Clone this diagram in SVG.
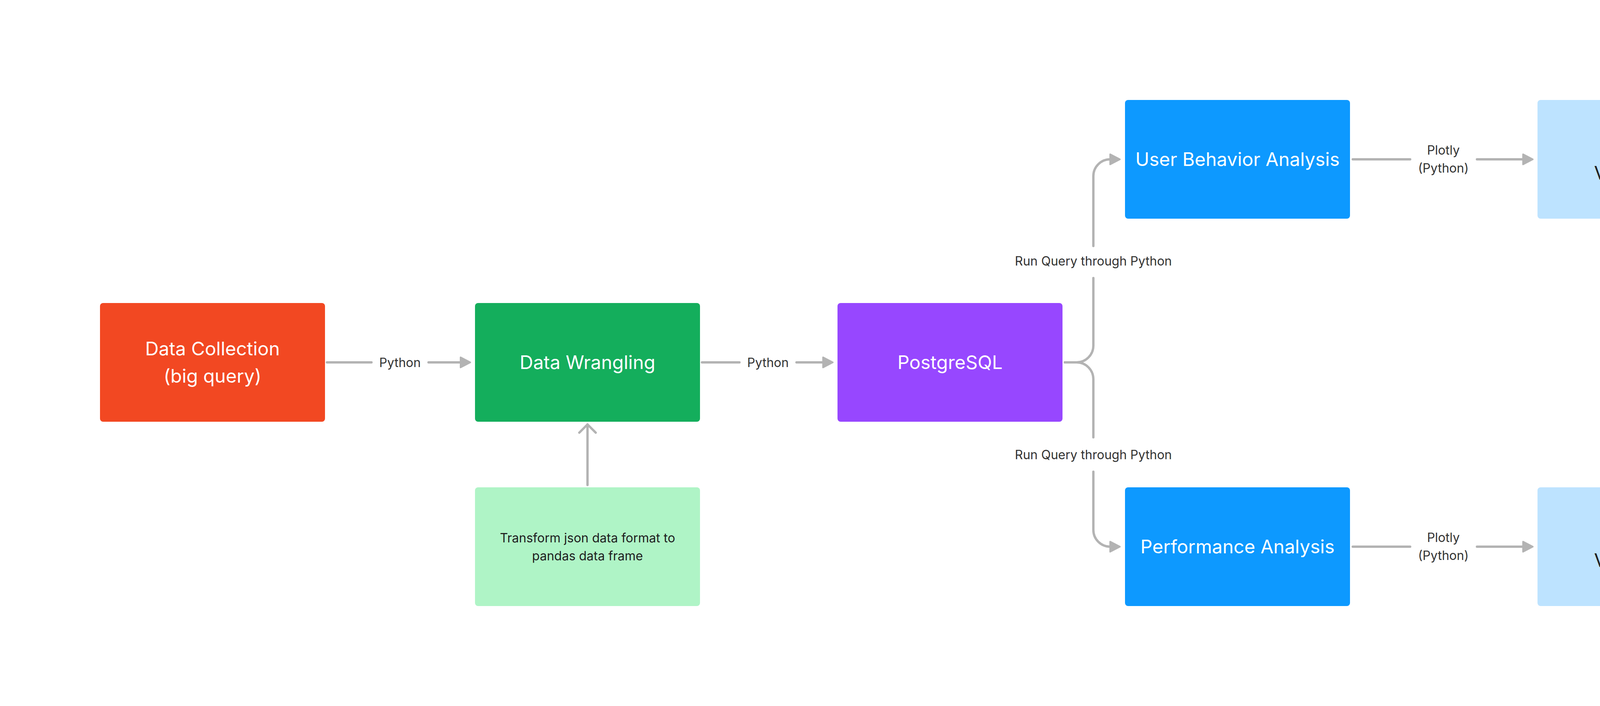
<svg xmlns="http://www.w3.org/2000/svg" width="5664" height="1808" viewBox="0 0 5664 1808">
<style>
.node rect{rx:8px;ry:8px}
.t48{font-family:Inter,"Liberation Sans",sans-serif;font-size:48px;text-anchor:middle}
.t32{font-family:Inter,"Liberation Sans",sans-serif;font-size:32px;text-anchor:middle}
.w{fill:#FFFFFF}
.d{fill:#1E1E1E}
.lbl{fill:#333333}
.c{fill:none;stroke:#B3B3B3;stroke-width:6;stroke-linecap:round;stroke-linejoin:round}
</style>
<defs>
<marker id="arrow" markerUnits="userSpaceOnUse" orient="auto" overflow="visible" refX="0" refY="0" markerWidth="1" markerHeight="1">
<path d="M0,-13 L25,0 L0,13 Z" fill="#B3B3B3" stroke="#B3B3B3" stroke-width="4" stroke-linejoin="round"/>
</marker>
<marker id="open" markerUnits="userSpaceOnUse" orient="auto" overflow="visible" refX="0" refY="0" markerWidth="1" markerHeight="1">
<path d="M-21,-21 L0,0 L-21,21" fill="none" stroke="#B3B3B3" stroke-width="6" stroke-linecap="round" stroke-linejoin="round"/>
</marker>
</defs>
<rect x="0" y="0" width="5664" height="1808" fill="#FFFFFF"/>
<g id="connectors">
<path class="c" d="M837,928 H951"/>
<path class="c" d="M1097,928 H1179" marker-end="url(#arrow)"/>
<path class="c" d="M1797,928 H1893"/>
<path class="c" d="M2039,928 H2107" marker-end="url(#arrow)"/>
<path class="c" d="M2726,928 H2756 A43,43 0 0 0 2799,885 V712"/>
<path class="c" d="M2799,630 V451 A43,43 0 0 1 2842,408" marker-end="url(#arrow)"/>
<path class="c" d="M2726,928 H2756 A43,43 0 0 1 2799,971 V1120"/>
<path class="c" d="M2799,1208 V1357 A43,43 0 0 0 2842,1400" marker-end="url(#arrow)"/>
<path class="c" d="M3463,408 H3610"/>
<path class="c" d="M3781,408 H3899" marker-end="url(#arrow)"/>
<path class="c" d="M3463,1400 H3610"/>
<path class="c" d="M3781,1400 H3899" marker-end="url(#arrow)"/>
<path class="c" d="M4518,408 H4628 A43,43 0 0 1 4671,451 V885 A43,43 0 0 0 4714,928 H4794" marker-end="url(#arrow)"/>
<path class="c" d="M4518,1400 H4628 A43,43 0 0 0 4671,1357 V971 A43,43 0 0 1 4714,928 H4794" marker-end="url(#arrow)"/>
<path class="c" d="M1504,1242 V1087" marker-end="url(#open)"/>
<text class="t32 lbl" x="1024" y="940">Python</text>
<text class="t32 lbl" x="1966" y="940">Python</text>
<text class="t32 lbl" x="2799" y="680">Run Query through Python</text>
<text class="t32 lbl" x="2799" y="1176">Run Query through Python</text>
<text class="t32 lbl" x="3695" y="396">Plotly</text>
<text class="t32 lbl" x="3695" y="442">(Python)</text>
<text class="t32 lbl" x="3695" y="1388">Plotly</text>
<text class="t32 lbl" x="3695" y="1434">(Python)</text>
</g>
<g id="data-collection" class="node">
<rect x="256" y="776" width="576" height="304" fill="#F24822"/>
<text class="t48 w" x="544" y="910">Data Collection</text>
<text class="t48 w" x="544" y="980">(big query)</text>
</g>
<g id="data-wrangling" class="node">
<rect x="1216" y="776" width="576" height="304" fill="#14AE5C"/>
<text class="t48 w" x="1504" y="945">Data Wrangling</text>
</g>
<g id="transform" class="node">
<rect x="1216" y="1248" width="576" height="304" fill="#AFF4C6"/>
<text class="t32 d" x="1504" y="1389">Transform json data format to</text>
<text class="t32 d" x="1504" y="1435">pandas data frame</text>
</g>
<g id="postgresql" class="node">
<rect x="2144" y="776" width="576" height="304" fill="#9747FF"/>
<text class="t48 w" x="2432" y="945">PostgreSQL</text>
</g>
<g id="user-behavior" class="node">
<rect x="2880" y="256" width="576" height="304" fill="#0D99FF"/>
<text class="t48 w" x="3168" y="425">User Behavior Analysis</text>
</g>
<g id="performance" class="node">
<rect x="2880" y="1248" width="576" height="304" fill="#0D99FF"/>
<text class="t48 w" x="3168" y="1417">Performance Analysis</text>
</g>
<g id="insights-top" class="node">
<rect x="3936" y="256" width="576" height="304" fill="#BDE3FF"/>
<text class="t48 d" x="4224" y="390">Insights</text>
<text class="t48 d" x="4224" y="460">Visualization</text>
</g>
<g id="insights-bottom" class="node">
<rect x="3936" y="1248" width="576" height="304" fill="#BDE3FF"/>
<text class="t48 d" x="4224" y="1382">Insights</text>
<text class="t48 d" x="4224" y="1452">Visualization</text>
</g>
<g id="conclusion" class="node">
<rect x="4832" y="776" width="576" height="304" fill="#F24822"/>
<text class="t48 w" x="5120" y="945">Conclusion</text>
</g>
</svg>
